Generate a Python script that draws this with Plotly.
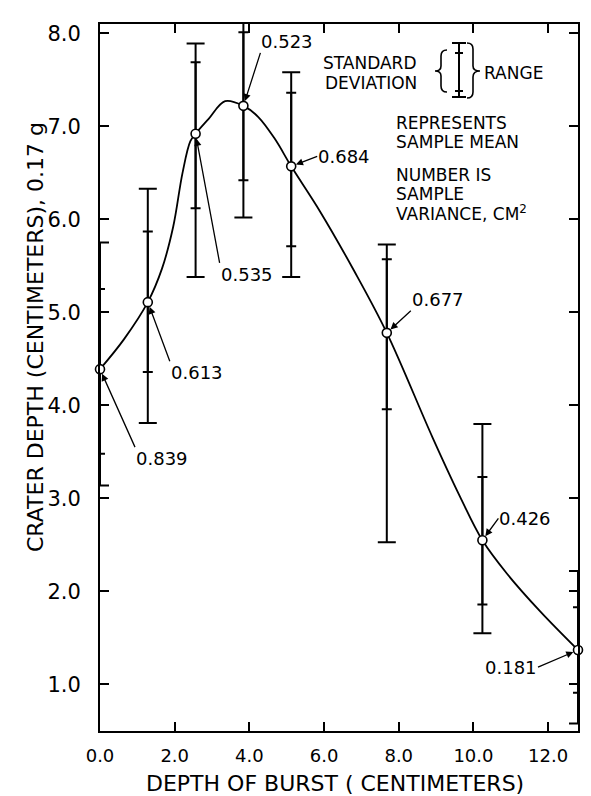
import plotly.graph_objects as go

# Depth of burst (cm) and crater depth statistics (cm)
depth = [0.0, 1.28, 2.56, 3.84, 5.12, 7.68, 10.24, 12.8]
mean_depth = [4.39, 5.11, 6.92, 7.22, 6.57, 4.78, 2.55, 1.37]
sd_high = [5.25, 5.87, 7.69, 8.01, 7.36, 5.57, 3.23, 1.83]
sd_low = [3.48, 4.36, 6.12, 6.42, 5.71, 3.96, 1.86, 0.91]
range_high = [5.75, 6.33, 7.89, 8.25, 7.58, 5.73, 3.80, 2.22]
range_low = [3.14, 3.81, 5.38, 6.02, 5.38, 2.53, 1.55, 0.58]
variance = ["0.839", "0.613", "0.535", "0.523", "0.684", "0.677", "0.426", "0.181"]

# hand-faired curve through the means
curve_x = [0.0, 0.64, 1.28, 1.66, 1.96, 2.21, 2.42, 2.56, 2.91, 3.35, 3.84,
           4.24, 4.69, 5.12, 5.9, 6.8, 7.68, 8.9, 9.64, 10.24, 10.9, 11.8, 12.8]
curve_y = [4.39, 4.71, 5.11, 5.47, 5.92, 6.50, 6.84, 6.92, 7.08, 7.27, 7.22,
           7.10, 6.86, 6.57, 6.08, 5.45, 4.78, 3.66, 3.02, 2.55, 2.19, 1.78, 1.37]

x_ticks = [0, 2, 4, 6, 8, 10, 12]
x_tick_text = ["0.0", "2.0", "4.0", "6.0", "8.0", "10.0", "12.0"]
y_ticks = [1, 2, 3, 4, 5, 6, 7, 8]
y_tick_text = ["1.0", "2.0", "3.0", "4.0", "5.0", "6.0", "7.0", "8.0"]

W, H = 591, 796
ML, MR, MT, MB = 100, 13, 24, 65
PW, PH = W - ML - MR, H - MT - MB
FONT = "DejaVu Sans"
INK = "black"


def px(xp):
    return (xp - ML) / PW


def py(yp):
    return (H - MB - yp) / PH


fig = go.Figure()

# range bars (outer caps)
fig.add_trace(go.Scatter(
    x=depth, y=mean_depth, mode="markers",
    marker=dict(size=1, color="rgba(0,0,0,0)"),
    error_y=dict(type="data", symmetric=False,
                 array=[h - m for h, m in zip(range_high, mean_depth)],
                 arrayminus=[m - l for m, l in zip(mean_depth, range_low)],
                 color=INK, thickness=2, width=9),
    cliponaxis=False, hoverinfo="skip", showlegend=False))

# standard deviation ticks
fig.add_trace(go.Scatter(
    x=depth, y=mean_depth, mode="markers",
    marker=dict(size=1, color="rgba(0,0,0,0)"),
    error_y=dict(type="data", symmetric=False,
                 array=[h - m for h, m in zip(sd_high, mean_depth)],
                 arrayminus=[m - l for m, l in zip(mean_depth, sd_low)],
                 color=INK, thickness=2, width=5),
    cliponaxis=False, hoverinfo="skip", showlegend=False))

# faired curve
fig.add_trace(go.Scatter(
    x=curve_x, y=curve_y, mode="lines",
    line=dict(color=INK, width=1.8, shape="spline", smoothing=1.0),
    hoverinfo="skip", showlegend=False))

# sample means
fig.add_trace(go.Scatter(
    x=depth, y=mean_depth, mode="markers",
    marker=dict(symbol="circle", size=9, color="white",
                line=dict(color=INK, width=1.6)),
    cliponaxis=False, showlegend=False))

# variance labels with arrows
label_offsets = [
    (35, 78, "left", "top"),
    (22, 59, "left", "top"),
    (24, 129, "left", "top"),
    (17, -53, "left", "bottom"),
    (26, -10, "left", "middle"),
    (24, -22, "left", "bottom"),
    (16, -22, "left", "middle"),
    (-40, 17, "right", "middle"),
]
annotations = []
for xv, yv, txt, (ax, ay, xa, ya) in zip(depth, mean_depth, variance, label_offsets):
    annotations.append(dict(
        x=xv, y=yv, xref="x", yref="y", text=txt, showarrow=True,
        ax=ax, ay=ay, xanchor=xa, yanchor=ya,
        arrowhead=2, arrowsize=1.1, arrowwidth=1.3, arrowcolor=INK,
        standoff=5, borderpad=0,
        font=dict(family=FONT, size=18, color=INK)))

# key text
key_lines = [
    ("STANDARD", 418, 63, "right"),
    ("DEVIATION", 418, 83, "right"),
    ("RANGE", 483, 73, "left"),
    ("REPRESENTS", 395, 123, "left"),
    ("SAMPLE MEAN", 395, 142, "left"),
    ("NUMBER IS", 395, 175, "left"),
    ("SAMPLE", 395, 194, "left"),
    ("VARIANCE, CM<sup>2</sup>", 395, 213, "left"),
]
for txt, xx, yy, xa in key_lines:
    annotations.append(dict(
        x=px(xx), y=py(yy), xref="paper", yref="paper", text=txt,
        showarrow=False, xanchor=xa, yanchor="middle", borderpad=0,
        font=dict(family=FONT, size=17, color=INK)))

# axis titles
annotations.append(dict(
    x=px(35), y=py(337), xref="paper", yref="paper",
    text="CRATER DEPTH (CENTIMETERS), 0.17 g", textangle=-90,
    showarrow=False, xanchor="center", yanchor="middle",
    font=dict(family=FONT, size=22, color=INK)))
annotations.append(dict(
    x=px(335), y=py(783), xref="paper", yref="paper",
    text="DEPTH OF BURST ( CENTIMETERS)",
    showarrow=False, xanchor="center", yanchor="middle",
    font=dict(family=FONT, size=22, color=INK)))

# key glyph: sample bar with braces
shapes = []
bx = 459


def seg(x0, y0, x1, y1, w=2):
    return dict(type="line", xref="paper", yref="paper",
                x0=px(x0), y0=py(y0), x1=px(x1), y1=py(y1),
                line=dict(color=INK, width=w))


shapes.append(seg(bx, 43, bx, 97))
shapes.append(seg(bx - 7, 43, bx + 7, 43))
shapes.append(seg(bx - 7, 97, bx + 7, 97))
shapes.append(seg(bx - 4, 53, bx + 4, 53))
shapes.append(seg(bx - 4, 91, bx + 4, 91))


def brace(pts):
    parts = []
    for cmd, coords in pts:
        s = " ".join(f"{px(a):.5f},{py(b):.5f}" for a, b in coords)
        parts.append(f"{cmd} {s}")
    return dict(type="path", xref="paper", yref="paper", path=" ".join(parts),
                line=dict(color=INK, width=1.6))


shapes.append(brace([
    ("M", [(447, 50)]), ("Q", [(441, 50), (441, 56)]), ("L", [(441, 66)]),
    ("Q", [(441, 71), (435, 71)]), ("Q", [(441, 71), (441, 76)]),
    ("L", [(441, 86)]), ("Q", [(441, 92), (447, 92)]),
]))
shapes.append(brace([
    ("M", [(467, 43)]), ("Q", [(473, 43), (473, 49)]), ("L", [(473, 66)]),
    ("Q", [(473, 71), (480, 71)]), ("Q", [(473, 71), (473, 77)]),
    ("L", [(473, 92)]), ("Q", [(473, 98), (467, 98)]),
]))

axis_common = dict(
    showline=True, linecolor=INK, linewidth=2, mirror="ticks",
    ticks="inside", ticklen=9, tickwidth=1.5, tickcolor=INK,
    showgrid=False, zeroline=False, automargin=False,
)

fig.update_layout(
    width=W, height=H,
    margin=dict(l=ML, r=MR, t=MT, b=MB),
    paper_bgcolor="white", plot_bgcolor="white",
    xaxis=dict(range=[0, 12.8], tickvals=x_ticks, ticktext=x_tick_text,
               ticklabelstandoff=7,
               tickfont=dict(family=FONT, size=18, color=INK),
               **axis_common),
    yaxis=dict(range=[0.5, 8.1], tickvals=y_ticks, ticktext=y_tick_text,
               ticklabelstandoff=13,
               tickfont=dict(family=FONT, size=21, color=INK),
               **axis_common),
    annotations=annotations,
    shapes=shapes,
)

fig.write_html("out.html")
